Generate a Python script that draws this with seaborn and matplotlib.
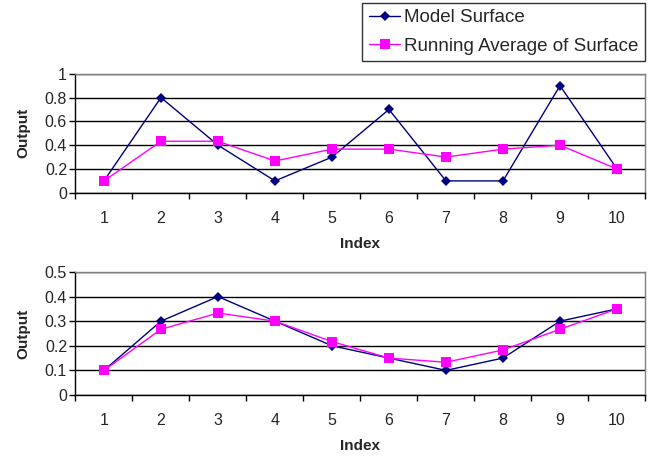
import pandas as pd
import seaborn as sns
import matplotlib
matplotlib.use("Agg")
import matplotlib.pyplot as plt

sns.set_style("white")
plt.rcParams['font.family'] = ['Liberation Sans', 'DejaVu Sans']

index = [1, 2, 3, 4, 5, 6, 7, 8, 9, 10]

# top chart
model_top = [0.1, 0.8, 0.4, 0.1, 0.3, 0.7, 0.1, 0.1, 0.9, 0.2]
avg_top = [0.1, 0.433, 0.433, 0.267, 0.367, 0.367, 0.3, 0.367, 0.4, 0.2]

# bottom chart
model_bot = [0.1, 0.3, 0.4, 0.3, 0.2, 0.15, 0.1, 0.15, 0.3, 0.35]
avg_bot = [0.1, 0.267, 0.333, 0.3, 0.217, 0.15, 0.133, 0.183, 0.267, 0.35]

series_names = ["Model Surface", "Running Average of Surface"]
colors = {"Model Surface": "#000080", "Running Average of Surface": "#FF00FF"}
markers = {"Model Surface": "D", "Running Average of Surface": "s"}


def make_frame(model, avg):
    df = pd.DataFrame({
        "Index": index * 2,
        "Output": model + avg,
        "Series": [series_names[0]] * len(index) + [series_names[1]] * len(index),
    })
    return df


def draw(ax, df, ymax, ystep):
    sns.lineplot(data=df, x="Index", y="Output", hue="Series", style="Series",
                 palette=colors, markers=markers, dashes=False, ax=ax,
                 linewidth=1.0, markersize=7, markeredgewidth=0, legend=True)
    for line in ax.get_lines():
        if line.get_marker() == "D":
            line.set_markersize(5.5)
    ax.set_xlim(0.5, 10.5)
    ax.set_ylim(0, ymax)
    n = int(round(ymax / ystep))
    yt = [round(i * ystep, 2) for i in range(n + 1)]
    ax.set_yticks(yt)
    ax.set_yticklabels(["%g" % v for v in yt])
    ax.yaxis.grid(True, color="black", linewidth=1.0)
    ax.set_axisbelow(True)
    # excel-like category axis: ticks between categories
    ax.set_xticks([i + 0.5 for i in range(11)], minor=False)
    ax.set_xticklabels([])
    ax.set_xticks(index, minor=True)
    ax.set_xticklabels([str(i) for i in index], minor=True)
    ax.tick_params(axis="x", which="minor", length=0, pad=13, labelsize=11.5)
    ax.tick_params(axis="x", which="major", length=4, width=1, color="black", direction="out", bottom=True)
    ax.tick_params(axis="y", length=4, width=1, color="black", direction="out", left=True, labelsize=11.5, pad=2)
    for s in ["top", "right"]:
        ax.spines[s].set_color("#808080")
        ax.spines[s].set_linewidth(1.0)
    for s in ["left", "bottom"]:
        ax.spines[s].set_color("black")
        ax.spines[s].set_linewidth(1.0)
    ax.set_xlabel("Index", fontweight="bold", fontsize=11, labelpad=8)
    ax.set_ylabel("Output", fontweight="bold", fontsize=11, labelpad=10)


fig = plt.figure(figsize=(6.59, 4.58), dpi=100)
ax1 = fig.add_axes([0.1145, 0.579, 0.865, 0.260])
ax2 = fig.add_axes([0.1145, 0.1376, 0.865, 0.2686])

draw(ax1, make_frame(model_top, avg_top), 1.0, 0.2)
draw(ax2, make_frame(model_bot, avg_bot), 0.5, 0.1)

handles, labels = ax1.get_legend_handles_labels()
ax1.get_legend().remove()
ax2.get_legend().remove()
leg = fig.legend(handles, labels, loc="upper right", bbox_to_anchor=(0.979, 0.994),
                 fontsize=13.5, frameon=True, fancybox=False, borderpad=0.35,
                 handlelength=1.7, handletextpad=0.2, labelspacing=0.6, borderaxespad=0)
leg.get_frame().set_edgecolor("black")
leg.get_frame().set_linewidth(1.0)

fig.savefig("out.png", dpi=100)
